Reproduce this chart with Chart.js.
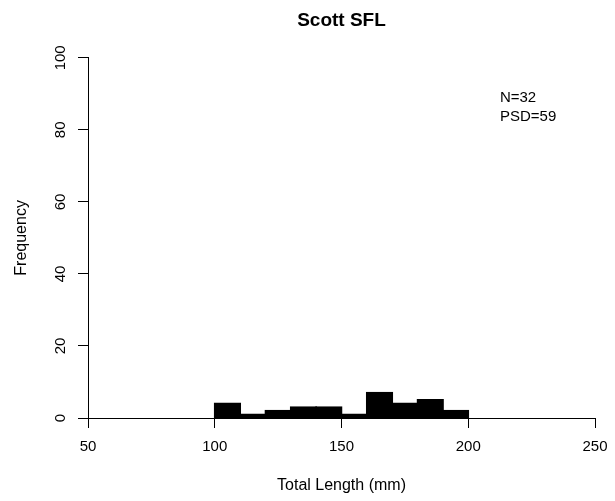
<!DOCTYPE html>
<html>
<head>
<meta charset="utf-8">
<script src="https://cdn.jsdelivr.net/npm/chart.js@4/dist/chart.umd.min.js"></script>
<style>
  html, body { margin: 0; padding: 0; background: #fff; }
  #wrap { width: 615px; height: 501px; }
</style>
</head>
<body>
<div id="wrap"><canvas id="hist" width="615" height="501"></canvas></div>
<script>
// histogram bins (mm) and counts
const binStarts = [100, 110, 120, 130, 140, 150, 160, 170, 180, 190];
const counts = [4, 1, 2, 3, 3, 1, 7, 4, 5, 2];
const binWidth = 10;
const xTicks = [50, 100, 150, 200, 250];
const yTicks = [0, 20, 40, 60, 80, 100];
const statLines = ['N=32', 'PSD=59'];

const FONT = "'Liberation Sans', Arial, sans-serif";

const points = binStarts.map((s, i) => ({ x: s + binWidth / 2, y: counts[i] }));

// N / PSD text in the upper right of the plot
const statsText = {
  id: 'statsText',
  afterDraw(chart) {
    const { ctx, scales } = chart;
    const x = scales.x.getPixelForValue(212.5);
    const y = scales.y.getPixelForValue(88.8);
    ctx.save();
    ctx.fillStyle = '#000';
    ctx.font = '15px ' + FONT;
    ctx.textAlign = 'left';
    ctx.textBaseline = 'middle';
    statLines.forEach((t, i) => ctx.fillText(t, x, y + i * 19));
    ctx.restore();
  }
};

new Chart(document.getElementById('hist').getContext('2d'), {
  type: 'bar',
  data: {
    datasets: [{
      data: points,
      backgroundColor: '#000',
      borderColor: '#000',
      borderWidth: 1,
      borderSkipped: false,
      inflateAmount: 1,
      barPercentage: 1,
      categoryPercentage: 1
    }]
  },
  options: {
    responsive: false,
    animation: false,
    layout: { padding: { left: 0, right: 20, top: 0, bottom: 0 } },
    scales: {
      x: {
        type: 'linear',
        min: 50,
        max: 250,
        offset: false,
        afterBuildTicks: (scale) => { scale.ticks = xTicks.map(v => ({ value: v })); },
        afterFit: (scale) => { scale.height = 83; scale.paddingRight = 0; scale.paddingLeft = 0; },
        grid: { display: true, drawOnChartArea: false, drawTicks: true, tickLength: 10, color: '#000', offset: false },
        border: { display: true, color: '#000', width: 1 },
        ticks: { color: '#000', font: { family: FONT, size: 15 }, padding: 10, maxRotation: 0 },
        title: { display: true, text: 'Total Length (mm)', color: '#000', font: { family: FONT, size: 16 }, padding: { top: 0, bottom: 6 } }
      },
      y: {
        min: 0,
        max: 100,
        afterBuildTicks: (scale) => { scale.ticks = yTicks.map(v => ({ value: v })); },
        afterFit: (scale) => { scale.width = 88; },
        grid: { display: true, drawOnChartArea: false, drawTicks: true, tickLength: 10, color: '#000' },
        border: { display: true, color: '#000', width: 1 },
        ticks: { color: '#000', font: { family: FONT, size: 15 }, padding: 5, minRotation: 90, maxRotation: 90, crossAlign: 'center' },
        title: { display: true, text: 'Frequency', color: '#000', font: { family: FONT, size: 16 }, padding: { top: 12, bottom: 0 } }
      }
    },
    plugins: {
      legend: { display: false },
      tooltip: { enabled: false },
      title: {
        display: true,
        text: 'Scott SFL',
        fullSize: false,
        color: '#000',
        font: { family: FONT, size: 19, weight: 'bold' },
        padding: { top: 9, bottom: 26 }
      }
    }
  },
  plugins: [statsText]
});
</script>
</body>
</html>
